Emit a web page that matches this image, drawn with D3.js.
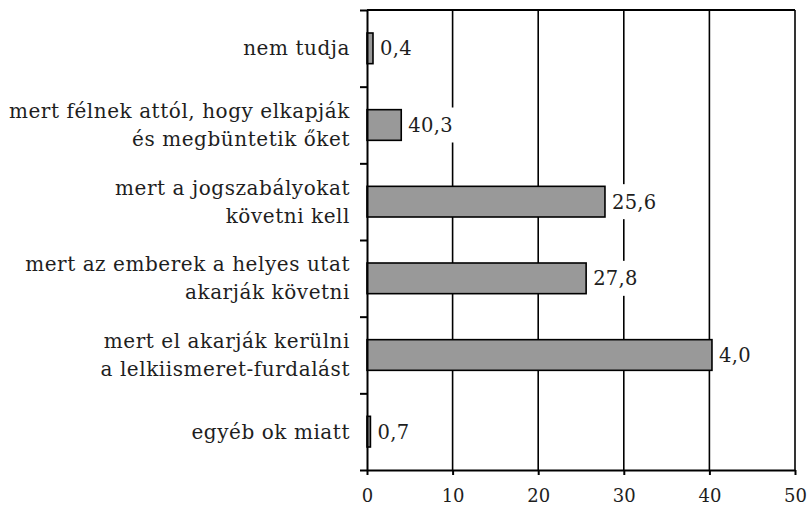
<!DOCTYPE html>
<html>
<head>
<meta charset="utf-8">
<script src="https://cdn.jsdelivr.net/npm/d3@7/dist/d3.min.js"></script>
<style>
  html, body { margin: 0; padding: 0; background: #fff; }
  svg { display: block; }
  text { font-family: "DejaVu Serif", serif; fill: #1e1e1e; }
</style>
</head>
<body>
<svg id="chart" width="809" height="505"></svg>
<script>
// ---- data ----
const categories = [
  ["nem tudja"],
  ["mert félnek attól, hogy elkapják", "és megbüntetik őket"],
  ["mert a jogszabályokat", "követni kell"],
  ["mert az emberek a helyes utat", "akarják követni"],
  ["mert el akarják kerülni", "a lelkiismeret-furdalást"],
  ["egyéb ok miatt"]
];
const barValues = [0.7, 4.0, 27.8, 25.6, 40.3, 0.4];
const valueLabels = ["0,4", "40,3", "25,6", "27,8", "4,0", "0,7"];
const xTicks = [0, 10, 20, 30, 40, 50];

// ---- layout ----
const svg = d3.select("#chart");
const pL = 367, pR = 795, pT = 10, pB = 470;
const keys = categories.map((c, i) => i);

const x = d3.scaleLinear().domain([0, 50]).range([pL, pR]);
const y = d3.scaleBand().domain(keys).range([pT, pB]).paddingInner(0.6).paddingOuter(0.3);
const yIdx = d3.scaleLinear().domain([0, categories.length]).range([pT, pB]);

// gridlines
svg.append("g").selectAll("line").data(xTicks.slice(1)).join("line")
  .attr("x1", d => x(d)).attr("x2", d => x(d))
  .attr("y1", pT).attr("y2", pB)
  .attr("stroke", "#000").attr("stroke-width", 1.6);

// top border
svg.append("line").attr("x1", x(0)).attr("x2", x(50)).attr("y1", pT).attr("y2", pT)
  .attr("stroke", "#000").attr("stroke-width", 1.8);

// value labels with white background
const lab = svg.append("g");
const labG = lab.selectAll("g").data(keys).join("g");
labG.append("rect").attr("fill", "#fff");
labG.append("text")
  .attr("x", i => x(barValues[i]) + 7)
  .attr("y", i => y(i) + y.bandwidth() / 2 + 7)
  .attr("font-size", 19.5)
  .attr("letter-spacing", 0.3)
  .text(i => valueLabels[i]);
labG.each(function() {
  const t = d3.select(this).select("text").node();
  const b = t.getBBox();
  const cy = +t.getAttribute("y") - 7;
  d3.select(this).select("rect")
    .attr("x", b.x - 2).attr("width", b.width + 4)
    .attr("y", cy - 17.5).attr("height", 35);
});

// bars
svg.append("g").selectAll("rect").data(keys).join("rect")
  .attr("x", x(0))
  .attr("y", i => y(i))
  .attr("width", i => x(barValues[i]) - x(0))
  .attr("height", y.bandwidth())
  .attr("fill", "#999999")
  .attr("stroke", "#000").attr("stroke-width", 1.6);

// y axis (ticks at category boundaries)
const yAxis = svg.append("g").attr("transform", `translate(${pL},0)`)
  .call(d3.axisLeft(yIdx).ticks(categories.length).tickSize(7).tickSizeOuter(0).tickFormat(""));
yAxis.selectAll("path, line").attr("stroke", "#000").attr("stroke-width", 2);

// x axis
const xAxis = svg.append("g").attr("transform", `translate(0,${pB})`)
  .call(d3.axisBottom(x).tickValues(xTicks).tickSize(5).tickSizeOuter(0).tickFormat(d => String(d)));
xAxis.selectAll("path, line").attr("stroke", "#000").attr("stroke-width", 2);
xAxis.selectAll("text")
  .attr("y", 32).attr("dy", 0)
  .attr("font-size", 18)
  .style("font-family", '"DejaVu Serif", serif')
  .attr("fill", "#1e1e1e");

// category labels
const catG = svg.append("g").selectAll("text").data(keys).join("text")
  .attr("text-anchor", "end")
  .attr("font-size", 20)
  .attr("letter-spacing", 0.55);
catG.each(function(i) {
  const lines = categories[i];
  const cy = y(i) + y.bandwidth() / 2;
  const base = cy + 7 - (lines.length - 1) * 14;
  d3.select(this).selectAll("tspan").data(lines).join("tspan")
    .attr("x", 350)
    .attr("y", (d, j) => base + j * 28)
    .text(d => d);
});
</script>
</body>
</html>
